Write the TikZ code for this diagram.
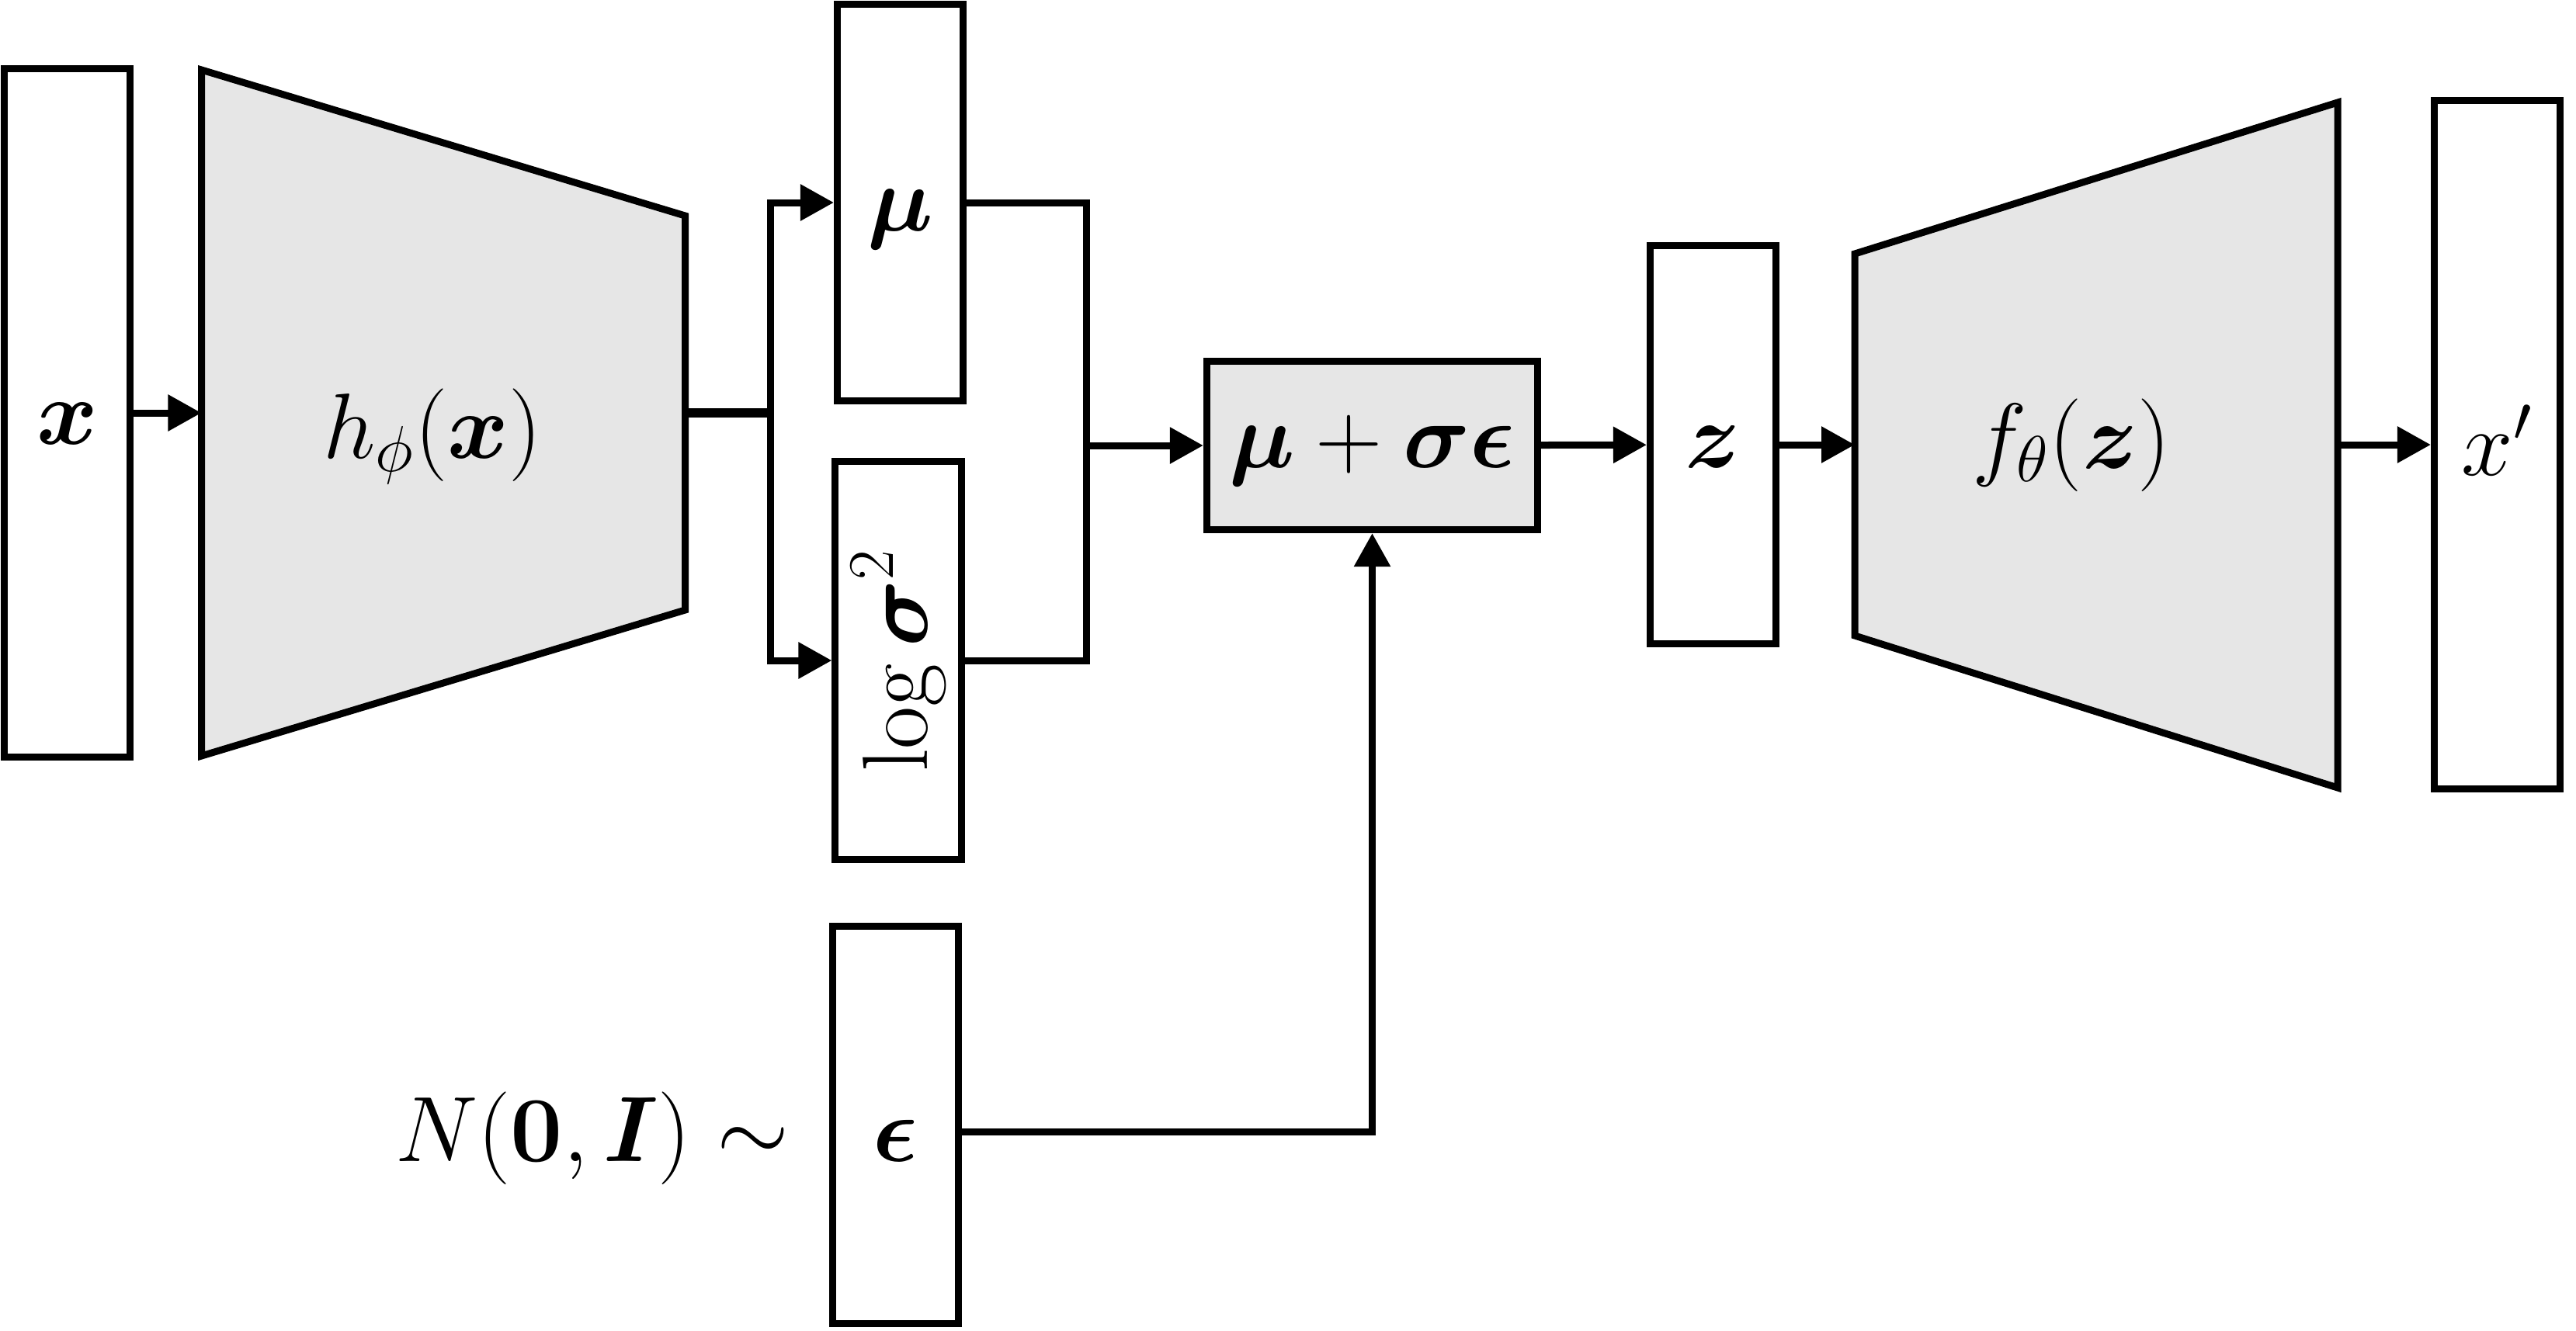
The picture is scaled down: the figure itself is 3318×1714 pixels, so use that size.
\RequirePackage{fix-cm}
\documentclass[tikz,border=0pt]{standalone}
\usepackage{amsmath,bm}
\usetikzlibrary{arrows.meta}
\definecolor{boxgray}{RGB}{230,230,230}
\begin{document}
\begin{tikzpicture}[x=0.01cm,y=-0.01cm,
  line width=0.09cm,
  conn/.style={-{Triangle[length=0.43cm,width=0.45cm]}},
  vec/.style={draw, minimum width=1.62cm, inner sep=0pt, font=\fontsize{34}{40}\selectfont},
  net/.style={draw, fill=boxgray, line join=miter},
  lbl/.style={font=\fontsize{34}{40}\selectfont, inner sep=0pt}
]
\useasboundingbox (0,0) rectangle (3318,1714);
% input
\node[vec, minimum height=8.87cm, text height=0.80cm, text depth=0pt] (x) at (86.5,532) {$\bm{x}$};
% encoder
\coordinate (e1) at (259.5,90);
\coordinate (e2) at (882.5,278);
\coordinate (e3) at (882.5,786);
\coordinate (e4) at (259.5,974);
\draw[net] (e1) -- (e2) -- (e3) -- (e4) -- cycle;
\coordinate (ein) at (259.5,532);
\coordinate (eout) at (882.5,532);
\node[lbl, anchor=base] (henc) at (557,590) {$h_{\phi}(\bm{x})$};
\draw[conn] (x) -- (ein);
% mu and log sigma^2
\node[vec, minimum height=5.11cm, text height=0.72cm, text depth=0pt] (mu) at (1159.5,261) {$\bm{\mu}$};
\node[vec, minimum height=5.12cm] (logv) at (1157,851) {\rotatebox{90}{$\log\bm{\sigma}^2$}};
\coordinate (split) at (992,532);
\draw[line width=0.125cm] (eout) -- (split);
\draw[conn] (split) |- (mu.west);
\draw[conn] (split) |- (logv.west);
% sampling box
\node[draw, fill=boxgray, minimum width=4.26cm, minimum height=2.17cm, lbl, inner sep=0pt, text height=0.56cm, text depth=0pt] (sum) at (1767.5,574) {$\bm{\mu}+\bm{\sigma}\bm{\epsilon}$};
\coordinate (merge) at (1399.5,574);
\draw (mu.east) -| (merge);
\draw (logv.east) -| (merge);
\draw[conn] (merge) -- (sum);
% epsilon
\node[vec, minimum height=5.12cm, text height=0.94cm, text depth=0pt] (eps) at (1153.5,1449.5) {$\bm{\epsilon}$};
\node[lbl, anchor=base east] (nlab) at (1021,1496) {$N(\bm{0},\bm{I})\sim$};
\coordinate (ecorner) at (1767.5,1458);
\draw[conn] (eps.east |- ecorner) -- (ecorner) -- (sum.south);
% latent z
\node[vec, minimum height=5.13cm, text height=0.58cm, text depth=0pt] (z) at (2206.5,573) {$\bm{z}$};
\draw[conn] (sum) -- (z);
% decoder
\coordinate (d1) at (2389,327);
\coordinate (d2) at (3011,132);
\coordinate (d3) at (3011,1015);
\coordinate (d4) at (2389,819);
\draw[net] (d1) -- (d2) -- (d3) -- (d4) -- cycle;
\coordinate (din) at (2389,573);
\coordinate (dout) at (3011,573);
\node[lbl, anchor=base] (fdec) at (2668,603) {$f_{\theta}(\bm{z})$};
\draw[conn] (z) -- (din);
% output
\node[vec, minimum height=8.87cm, text height=0.78cm, text depth=0pt] (xp) at (3216.5,573) {$x'$};
\draw[conn] (dout) -- (xp);
\end{tikzpicture}
\end{document}
